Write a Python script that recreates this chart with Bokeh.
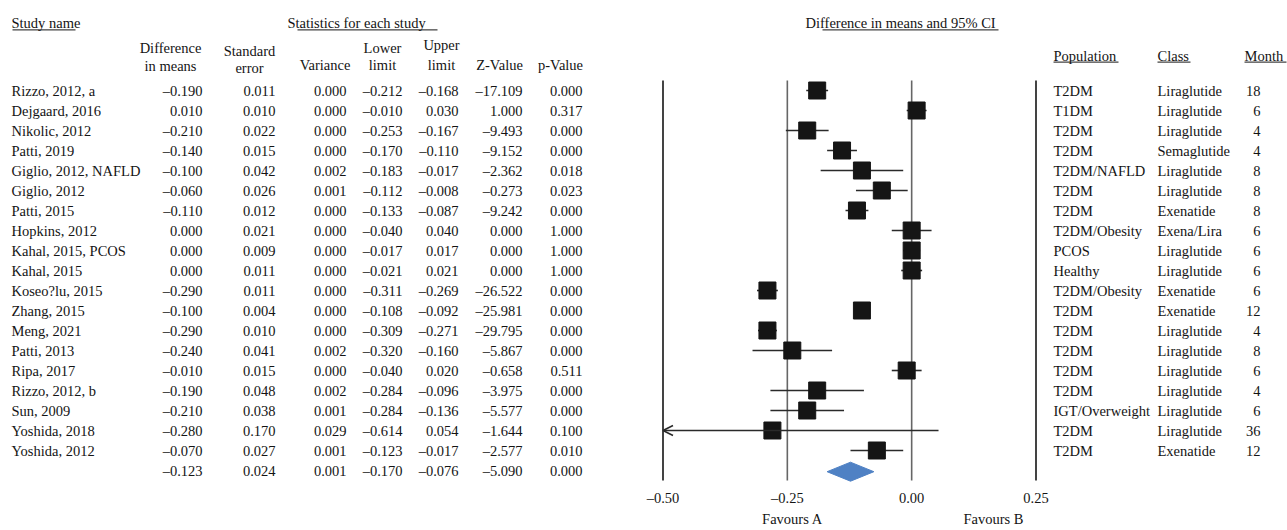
from bokeh.plotting import figure
from bokeh.models import Range1d, Arrow, OpenHead
from bokeh.core.properties import value
from bokeh.embed import file_html
from bokeh.resources import INLINE

# ---------------- data ----------------
studies = ["Rizzo, 2012, a", "Dejgaard, 2016", "Nikolic, 2012", "Patti, 2019",
           "Giglio, 2012, NAFLD", "Giglio, 2012", "Patti, 2015", "Hopkins, 2012",
           "Kahal, 2015, PCOS", "Kahal, 2015", "Koseo?lu, 2015", "Zhang, 2015",
           "Meng, 2021", "Patti, 2013", "Ripa, 2017", "Rizzo, 2012, b",
           "Sun, 2009", "Yoshida, 2018", "Yoshida, 2012"]
diff = [-0.190, 0.010, -0.210, -0.140, -0.100, -0.060, -0.110, 0.000, 0.000, 0.000,
        -0.290, -0.100, -0.290, -0.240, -0.010, -0.190, -0.210, -0.280, -0.070]
std_err = [0.011, 0.010, 0.022, 0.015, 0.042, 0.026, 0.012, 0.021, 0.009, 0.011,
           0.011, 0.004, 0.010, 0.041, 0.015, 0.048, 0.038, 0.170, 0.027]
variance = [0.000, 0.000, 0.000, 0.000, 0.002, 0.001, 0.000, 0.000, 0.000, 0.000,
            0.000, 0.000, 0.000, 0.002, 0.000, 0.002, 0.001, 0.029, 0.001]
lower = [-0.212, -0.010, -0.253, -0.170, -0.183, -0.112, -0.133, -0.040, -0.017, -0.021,
         -0.311, -0.108, -0.309, -0.320, -0.040, -0.284, -0.284, -0.614, -0.123]
upper = [-0.168, 0.030, -0.167, -0.110, -0.017, -0.008, -0.087, 0.040, 0.017, 0.021,
         -0.269, -0.092, -0.271, -0.160, 0.020, -0.096, -0.136, 0.054, -0.017]
z_value = [-17.109, 1.000, -9.493, -9.152, -2.362, -0.273, -9.242, 0.000, 0.000, 0.000,
           -26.522, -25.981, -29.795, -5.867, -0.658, -3.975, -5.577, -1.644, -2.577]
p_value = [0.000, 0.317, 0.000, 0.000, 0.018, 0.023, 0.000, 1.000, 1.000, 1.000,
           0.000, 0.000, 0.000, 0.000, 0.511, 0.000, 0.000, 0.100, 0.010]
population = ["T2DM", "T1DM", "T2DM", "T2DM", "T2DM/NAFLD", "T2DM", "T2DM", "T2DM/Obesity",
              "PCOS", "Healthy", "T2DM/Obesity", "T2DM", "T2DM", "T2DM", "T2DM", "T2DM",
              "IGT/Overweight", "T2DM", "T2DM"]
drug_class = ["Liraglutide", "Liraglutide", "Liraglutide", "Semaglutide", "Liraglutide",
              "Liraglutide", "Exenatide", "Exena/Lira", "Liraglutide", "Liraglutide",
              "Exenatide", "Exenatide", "Liraglutide", "Liraglutide", "Liraglutide",
              "Liraglutide", "Liraglutide", "Liraglutide", "Exenatide"]
months = [18, 6, 4, 4, 8, 8, 8, 6, 6, 6, 6, 12, 4, 8, 6, 4, 6, 36, 12]

summary_diff, summary_se, summary_var = -0.123, 0.024, 0.001
summary_lower, summary_upper = -0.170, -0.076
summary_z, summary_p = -5.090, 0.000

ticks = [-0.50, -0.25, 0.00, 0.25]
favours = ["Favours A", "Favours B"]

# ---------------- helpers ----------------
def fmt(v, d=3):
    s = f"{v:.{d}f}"
    return s.replace("-", "\u2013")

FONT = value("Liberation Serif")
FS = "14.5px"
TXT = "#141414"

n = len(studies)
rows = list(range(1, n + 1))
srow = n + 1

W, H = 1287, 530
# x: -0.50 at px 662.5 and 0.25 at px 1035.5
ppu = (1035.5 - 662.5) / (ticks[-1] - ticks[0])
x0 = ticks[0] - 662.5 / ppu
x1 = x0 + W / ppu

p = figure(width=W, height=H, x_range=Range1d(x0, x1), y_range=Range1d(23.0, -3.5),
           output_backend="svg", toolbar_location=None, min_border=0,
           outline_line_color=None, background_fill_color="white",
           border_fill_color="white")
p.extra_x_ranges = {"px": Range1d(0, W)}
p.xaxis.visible = False
p.yaxis.visible = False
p.xgrid.visible = False
p.ygrid.visible = False


def txt(xs, ys, texts, align="left", rng="px", **kw):
    p.text(x=xs, y=ys, text=texts, x_range_name=rng if rng else "default",
           text_font=FONT, text_font_size=FS, text_color=TXT,
           text_align=align, text_baseline="middle", **kw)

# ---------------- left table ----------------
txt([11] * n, rows, studies, "left")
cols = [
    ([fmt(v) for v in diff] + [fmt(summary_diff)], 202),
    ([fmt(v) for v in std_err] + [fmt(summary_se)], 275),
    ([fmt(v) for v in variance] + [fmt(summary_var)], 346),
    ([fmt(v) for v in lower] + [fmt(summary_lower)], 402),
    ([fmt(v) for v in upper] + [fmt(summary_upper)], 458),
    ([fmt(v) for v in z_value] + [fmt(summary_z)], 522),
    ([fmt(v) for v in p_value] + [fmt(summary_p)], 582),
]
all_rows = rows + [srow]
for vals, xr in cols:
    txt([xr] * len(vals), all_rows, vals, "right")

# headers
txt([11], [-2.4], ["Study name"])
txt([287], [-2.4], ["Statistics for each study"])
txt([805], [-2.4], ["Difference in means and 95% CI"])
txt([170, 249, 382, 441], [-1.15, -1.0, -1.15, -1.3],
    ["Difference", "Standard", "Lower", "Upper"], "center")
txt([170, 249, 324.5, 382, 441, 499, 560], [-0.25, -0.15, -0.3, -0.3, -0.3, -0.3, -0.3],
    ["in means", "error", "Variance", "limit", "limit", "Z-Value", "p-Value"], "center")

# right table
txt([1053] * n, rows, population)
txt([1157] * n, rows, drug_class)
txt([1260] * n, rows, [str(m) for m in months], "right")
txt([1053, 1157, 1244], [-0.75] * 3, ["Population", "Class", "Month"])

# underlines
uy = [-2.03, -2.03, -2.03, -0.42, -0.42, -0.42]
p.segment(x0=[12, 297, 822, 1053, 1157, 1244], x1=[75, 437, 998, 1118, 1190, 1286],
          y0=uy, y1=uy, x_range_name="px", line_color=TXT, line_width=1)

# ---------------- forest plot ----------------
p.segment(x0=ticks, x1=ticks, y0=[0.5] * 4, y1=[srow + 0.5] * 4,
          line_color=["#151515", "#666666", "#666666", "#151515"], line_width=1.6)

lo_clip = [max(l, ticks[0]) for l in lower]
ok = [i for i in range(n) if lower[i] >= ticks[0]]
clipped = [i for i in range(n) if lower[i] < ticks[0]]
p.segment(x0=[lo_clip[i] for i in ok], x1=[upper[i] for i in ok],
          y0=[rows[i] for i in ok], y1=[rows[i] for i in ok],
          line_color="#2a2a2a", line_width=1.6)
for i in clipped:
    p.add_layout(Arrow(x_start=upper[i], y_start=rows[i], x_end=lo_clip[i], y_end=rows[i],
                       line_color="#2a2a2a", line_width=1.6,
                       end=OpenHead(size=10, line_color="#2a2a2a", line_width=1.6)))

p.scatter(x=diff, y=rows, marker="square", size=17, color="#151515")

h = 0.475
yc = srow + 0.06
p.patch(x=[summary_lower, summary_diff, summary_upper, summary_diff],
        y=[yc, yc - h, yc, yc + h], color="#4F81C4", line_color="#4F81C4")

# tick labels & favours
txt(ticks, [21.35] * 4, [fmt(t, 2) for t in ticks], "center", rng=None)
txt([792, 993], [22.4, 22.4], favours, "center")

open("out.html", "w").write(file_html(p, INLINE))
